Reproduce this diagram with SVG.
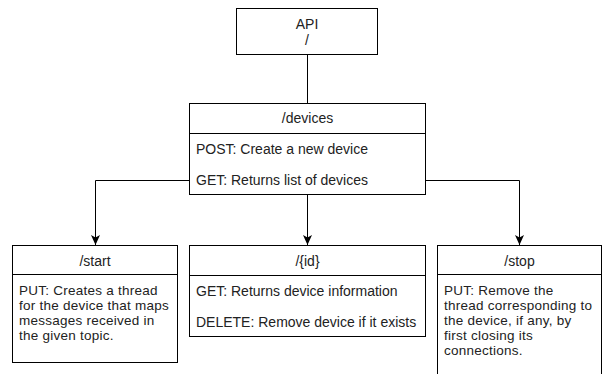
<svg xmlns="http://www.w3.org/2000/svg" width="603" height="374" viewBox="0 0 603 374">
<style>
.box{fill:#fff;stroke:#000;stroke-width:1}
.sep{stroke:#000;stroke-width:1}
.edge{fill:none;stroke:#000;stroke-width:1}
text{font-family:"Liberation Sans",Arial,sans-serif;font-size:14px;fill:#222}
.c{text-anchor:middle}
.m{font-size:13.5px;letter-spacing:0.25px}
</style>
<defs>
<marker id="arr" markerUnits="userSpaceOnUse" viewBox="0 0 10 10" refX="10" refY="5" markerWidth="10" markerHeight="10" orient="auto">
<path d="M0,0.5 L10,5 L0,9.5 L2.5,5 z" fill="#000"/>
</marker>
</defs>
<rect width="603" height="374" fill="#fff"/>
<g id="connectors">
<path class="edge" d="M307.5,54.5 L307.5,103.5"/>
<path class="edge" d="M307.5,194.5 L307.5,245" marker-end="url(#arr)"/>
<path class="edge" d="M189.5,180.5 L95.5,180.5 L95.5,245" marker-end="url(#arr)"/>
<path class="edge" d="M425.5,180.5 L519.5,180.5 L519.5,245" marker-end="url(#arr)"/>
</g>
<g id="api">
<rect class="box" x="236.5" y="8.5" width="141" height="46"/>
<text class="c" x="307" y="29">API<tspan x="307" y="45">/</tspan></text>
</g>
<g id="devices">
<rect class="box" x="189.5" y="103.5" width="236" height="91"/>
<line class="sep" x1="189.5" y1="133.5" x2="425.5" y2="133.5"/>
<text class="c" x="307.5" y="123">/devices</text>
<text x="196" y="154">POST: Create a new device</text>
<text x="196" y="185">GET: Returns list of devices</text>
</g>
<g id="start">
<rect class="box" x="12.5" y="245.5" width="165" height="117"/>
<line class="sep" x1="12.5" y1="274.5" x2="177.5" y2="274.5"/>
<text class="c" x="95" y="266">/start</text>
<text class="m" x="19" y="294.5">PUT: Creates a thread<tspan x="19" dy="15.1">for the device that maps</tspan><tspan x="19" dy="15.1">messages received in</tspan><tspan x="19" dy="15.1">the given topic.</tspan></text>
</g>
<g id="id">
<rect class="box" x="189.5" y="245.5" width="236" height="91"/>
<line class="sep" x1="189.5" y1="275.5" x2="425.5" y2="275.5"/>
<text class="c" x="307.5" y="266">/{id}</text>
<text x="196" y="296">GET: Returns device information</text>
<text x="196" y="327">DELETE: Remove device if it exists</text>
</g>
<g id="stop">
<rect class="box" x="437.5" y="245.5" width="164" height="140"/>
<line class="sep" x1="437.5" y1="274.5" x2="601.5" y2="274.5"/>
<text class="c" x="519.5" y="266">/stop</text>
<text class="m" x="444" y="295">PUT: Remove the<tspan x="444" dy="15.1">thread corresponding to</tspan><tspan x="444" dy="15.1">the device, if any, by</tspan><tspan x="444" dy="15.1">first closing its</tspan><tspan x="444" dy="15.1">connections.</tspan></text>
</g>
</svg>
